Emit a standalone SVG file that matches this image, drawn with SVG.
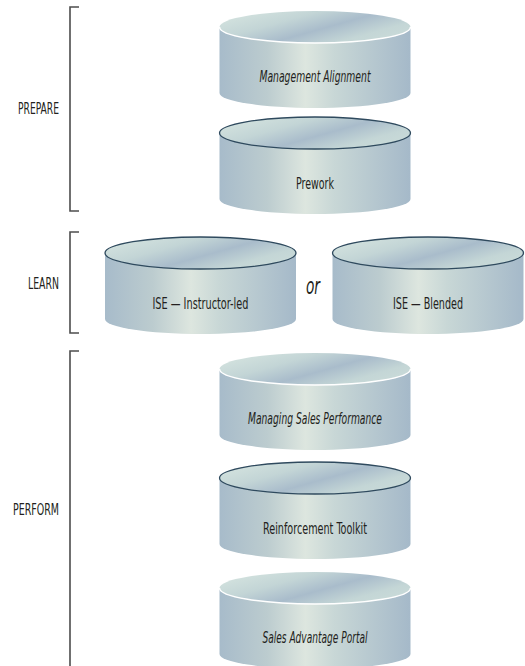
<svg xmlns="http://www.w3.org/2000/svg" width="525" height="666" viewBox="0 0 525 666">
  <style>
    .lbl { font-family: "Liberation Sans Narrow", "DejaVu Sans Condensed", "Liberation Sans", sans-serif; font-size: 15.5px; fill: #231f20; }
    .stage { font-family: "Liberation Sans Narrow", "DejaVu Sans Condensed", "Liberation Sans", sans-serif; font-size: 15px; fill: #231f20; text-anchor: end; }
    .it { font-style: italic; }
    .or { font-family: "Liberation Sans Narrow", "DejaVu Sans Condensed", "Liberation Sans", sans-serif; font-size: 23px; font-style: italic; fill: #231f20; }
    .bracket { fill: none; stroke: #4d4d4d; stroke-width: 1.6; }
    .body { fill: url(#gBody); }
    .top { fill: url(#gTop); }
    .hl { fill: none; stroke: #ffffff; stroke-width: 1.5; }
    .ol { fill: url(#gTop); stroke: #2f4a5e; stroke-width: 1.3; }
  </style>
  <defs>
    <linearGradient id="gBody" x1="0" y1="0" x2="1" y2="0">
      <stop offset="0" stop-color="#a7bbca"/>
      <stop offset="0.25" stop-color="#bccccf"/>
      <stop offset="0.45" stop-color="#dde6df"/>
      <stop offset="0.6" stop-color="#c8d7d6"/>
      <stop offset="1" stop-color="#a5b9c9"/>
    </linearGradient>
    <linearGradient id="gTop" x1="0" y1="0.2" x2="1" y2="0.8">
      <stop offset="0" stop-color="#d4e3df"/>
      <stop offset="0.3" stop-color="#c3d5d6"/>
      <stop offset="0.55" stop-color="#a9bccb"/>
      <stop offset="0.8" stop-color="#c4d6d6"/>
      <stop offset="1" stop-color="#cadbd9"/>
    </linearGradient>
    <path id="cylBody" d="M -95.5 0 L -95.5 66 A 95.5 15 0 0 0 95.5 66 L 95.5 0 Z"/>
    <ellipse id="cylTop" cx="0" cy="0" rx="95.5" ry="16"/>
    <path id="cylHl" d="M -95.5 0 A 95.5 16 0 0 0 95.5 0"/>
  </defs>

  <g id="brackets">
    <path class="bracket" d="M 79 7 H 70 V 211 H 79"/>
    <path class="bracket" d="M 79 232 H 70 V 333 H 79"/>
    <path class="bracket" d="M 79 351 H 70 V 666"/>
  </g>

  <g id="stage-labels">
    <text class="stage" x="59" y="113.5" textLength="41" lengthAdjust="spacingAndGlyphs">PREPARE</text>
    <text class="stage" x="59" y="288.5" textLength="31" lengthAdjust="spacingAndGlyphs">LEARN</text>
    <text class="stage" x="59" y="514.5" textLength="46" lengthAdjust="spacingAndGlyphs">PERFORM</text>
  </g>

  <g id="management-alignment" transform="translate(315 27)">
    <use href="#cylBody" class="body"/>
    <use href="#cylTop" class="top"/>
    <use href="#cylHl" class="hl"/>
    <text class="lbl it" x="0" y="54.5" text-anchor="middle" textLength="111" lengthAdjust="spacingAndGlyphs">Management Alignment</text>
  </g>

  <g id="prework" transform="translate(315 133)">
    <use href="#cylBody" class="body"/>
    <use href="#cylTop" class="ol"/>
    <text class="lbl" x="0" y="55.5" text-anchor="middle" textLength="38" lengthAdjust="spacingAndGlyphs">Prework</text>
  </g>

  <g id="ise-instructor-led" transform="translate(200.5 253)">
    <use href="#cylBody" class="body"/>
    <use href="#cylTop" class="ol"/>
    <text class="lbl" x="0" y="55.5" text-anchor="middle" textLength="96" lengthAdjust="spacingAndGlyphs">ISE — Instructor-led</text>
  </g>

  <g id="or-label">
    <text class="or" x="313" y="294" text-anchor="middle" textLength="14" lengthAdjust="spacingAndGlyphs">or</text>
  </g>

  <g id="ise-blended" transform="translate(428 253)">
    <use href="#cylBody" class="body"/>
    <use href="#cylTop" class="ol"/>
    <text class="lbl" x="0" y="55.5" text-anchor="middle" textLength="70" lengthAdjust="spacingAndGlyphs">ISE — Blended</text>
  </g>

  <g id="managing-sales-performance" transform="translate(315 369)">
    <use href="#cylBody" class="body"/>
    <use href="#cylTop" class="top"/>
    <use href="#cylHl" class="hl"/>
    <text class="lbl it" x="0" y="54.5" text-anchor="middle" textLength="134" lengthAdjust="spacingAndGlyphs">Managing Sales Performance</text>
  </g>

  <g id="reinforcement-toolkit" transform="translate(315 478)">
    <use href="#cylBody" class="body"/>
    <use href="#cylTop" class="ol"/>
    <text class="lbl" x="0" y="55.5" text-anchor="middle" textLength="104" lengthAdjust="spacingAndGlyphs">Reinforcement Toolkit</text>
  </g>

  <g id="sales-advantage-portal" transform="translate(315 588)">
    <use href="#cylBody" class="body"/>
    <use href="#cylTop" class="top"/>
    <use href="#cylHl" class="hl"/>
    <text class="lbl it" x="0" y="54.5" text-anchor="middle" textLength="105" lengthAdjust="spacingAndGlyphs">Sales Advantage Portal</text>
  </g>
</svg>
